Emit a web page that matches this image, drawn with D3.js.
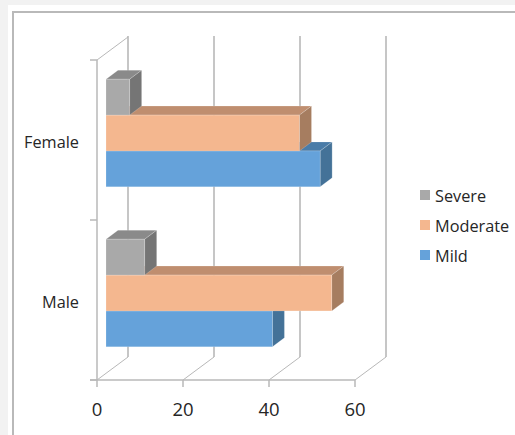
<!Doctype html>
<head>
  <meta charset="utf-8">
  <title>severity by sex</title>
  <style>
    html,body{
      margin:0;
      padding:0;
      background:#f2f2f2;
      overflow:hidden;
    }
    text{
      font-family:"Open Sans",sans-serif;
      fill:#262626;
    }
    .domain{
      display:none;
    }
  </style>
</head>
<body>
  <div id="container"></div>
  <script src="https://cdnjs.cloudflare.com/ajax/libs/d3/7.8.5/d3.min.js"></script>
  <script>
  var categories = ["Female","Male"];
  var seriesNames = ["Severe","Moderate","Mild"];
  var severe = [5.5,9];
  var moderate = [45,52.5];
  var mild = [49.8,38.7];
  var xTicks = [0,20,40,60];

  var seriesValues = {Severe:severe, Moderate:moderate, Mild:mild};
  var colors = {
    Severe:{front:"#a9a9a9", top:"#8a8a8a", side:"#757575"},
    Moderate:{front:"#f4b78f", top:"#bf8e6f", side:"#a67d60"},
    Mild:{front:"#65a2da", top:"#4a7ca8", side:"#447298"}
  };

  var width = 515, height = 435;
  var grid = "#b8b8b8";
  // floor/wall depth, bar position inside it, and the bar's own depth
  var depth = {x:31, y:-23}, barOff = {x:9, y:-7}, barDepth = {x:12, y:-9};

  var svg = d3.select("#container").append("svg")
      .attr("width", width)
      .attr("height", height)
      .style("display","block");

  // page and chart frame
  svg.append("rect").attr("x",8).attr("y",5).attr("width",width).attr("height",height).attr("fill","#fff");
  svg.append("path").attr("d","M13,"+height+"V12H"+width)
      .attr("fill","none").attr("stroke","#b9b9b9").attr("stroke-width",2);

  var xScale = d3.scaleLinear().domain([0,60]).range([97,355]);
  var yScale = d3.scaleBand().domain(categories).range([60,380]);
  var inner = d3.scaleBand().domain(seriesNames).range([0,yScale.bandwidth()]).paddingInner(0).paddingOuter(0.73);

  var walls = svg.append("g");

  // back wall gridlines and the floor lines running to them
  xTicks.forEach(function(t){
    walls.append("line")
      .attr("x1",xScale(t)+depth.x).attr("x2",xScale(t)+depth.x)
      .attr("y1",36).attr("y2",380+depth.y)
      .attr("stroke",grid).attr("stroke-width",1.6);
    walls.append("line")
      .attr("x1",xScale(t)).attr("x2",xScale(t)+depth.x)
      .attr("y1",380).attr("y2",380+depth.y)
      .attr("stroke",grid).attr("stroke-width",1);
  });

  // left wall
  walls.append("line").attr("x1",97).attr("x2",97).attr("y1",60).attr("y2",380)
      .attr("stroke",grid).attr("stroke-width",1.5);
  walls.append("line").attr("x1",97).attr("x2",97+depth.x).attr("y1",60).attr("y2",60+depth.y)
      .attr("stroke",grid).attr("stroke-width",1);

  var xAxis = d3.axisBottom(xScale).tickValues(xTicks).tickSize(7).tickPadding(16);
  var xg = walls.append("g").attr("transform","translate(-0.5,380)").call(xAxis);
  xg.selectAll(".tick line").attr("stroke",grid).attr("stroke-width",1.5);
  xg.selectAll(".tick text").style("font-size","18.5px").attr("fill","#262626");
  walls.append("line").attr("x1",90).attr("x2",xScale(60)).attr("y1",380).attr("y2",380)
      .attr("stroke",grid).attr("stroke-width",1.5);

  // category ticks sit on the band edges, labels in the middle
  [60,220,380].forEach(function(v){
    walls.append("line").attr("x1",90).attr("x2",97).attr("y1",v).attr("y2",v)
      .attr("stroke",grid).attr("stroke-width",1.5);
  });
  categories.forEach(function(c){
    svg.append("text")
      .attr("x",79).attr("y",yScale(c)+yScale.bandwidth()/2+2)
      .attr("dy","0.35em").attr("text-anchor","end")
      .style("font-size","16.3px").text(c);
  });

  function poly(pts){ return pts.map(function(p){return p.join(",");}).join(" "); }

  var bars = svg.append("g");
  categories.forEach(function(c,ci){
    // bottom bar first so the upper ones overlap its top face
    seriesNames.slice().reverse().forEach(function(s){
      var v = seriesValues[s][ci];
      var x0 = xScale(0)+barOff.x, x1 = xScale(v)+barOff.x;
      var y0 = yScale(c)+inner(s)+barOff.y, y1 = y0+inner.bandwidth();
      var dx = barDepth.x, dy = barDepth.y;
      var g = bars.append("g").attr("stroke","#fff").attr("stroke-opacity",0.3).attr("stroke-width",0.6);
      g.append("polygon").attr("points",poly([[x0,y0],[x0+dx,y0+dy],[x1+dx,y0+dy],[x1,y0]])).attr("fill",colors[s].top);
      g.append("polygon").attr("points",poly([[x1,y0],[x1+dx,y0+dy],[x1+dx,y1+dy],[x1,y1]])).attr("fill",colors[s].side);
      g.append("rect").attr("x",x0).attr("y",y0).attr("width",x1-x0).attr("height",y1-y0).attr("fill",colors[s].front);
    });
  });

  var legendY = d3.scalePoint().domain(seriesNames).range([195,255]);
  var legend = svg.append("g").selectAll("g").data(seriesNames).enter().append("g")
      .attr("transform",function(d){return "translate(420,"+legendY(d)+")";});
  legend.append("rect").attr("y",-5).attr("width",10).attr("height",10).attr("fill",function(d){return colors[d].front;});
  legend.append("text").attr("x",15).attr("y",1).attr("dy","0.35em")
      .style("font-size","16.3px").text(function(d){return d;});
  </script>
</body>
</html>
